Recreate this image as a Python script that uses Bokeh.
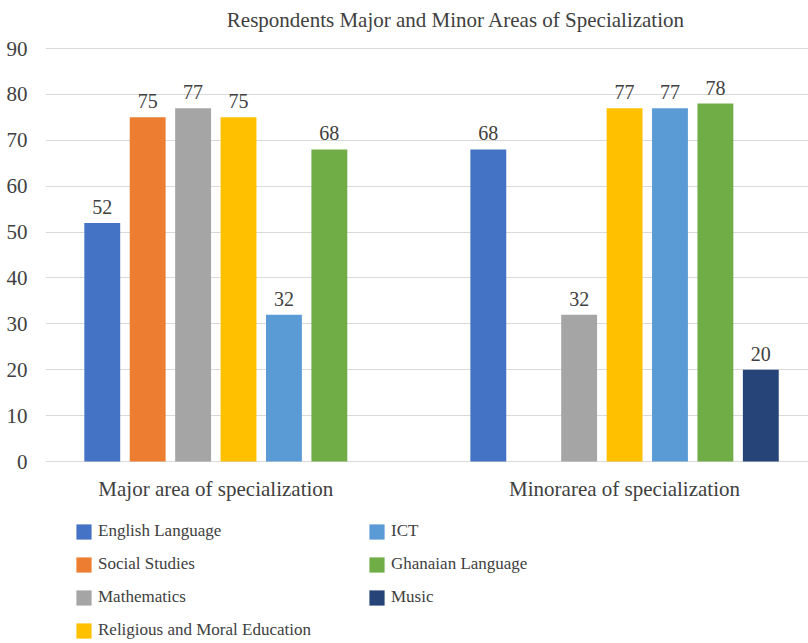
from bokeh.plotting import figure
from bokeh.models import ColumnDataSource, Legend, LegendItem, Label, LabelSet, FixedTicker
from bokeh.embed import file_html
from bokeh.resources import INLINE

# ---------------- data ----------------
title_text = "Respondents Major and Minor Areas of Specialization"
categories = ["Major area of specialization", "Minorarea of specialization"]
series = ["English Language", "Social Studies", "Mathematics",
          "Religious and Moral Education", "ICT", "Ghanaian Language", "Music"]
major = [52, 75, 77, 75, 32, 68, None]
minor = [68, None, 32, 77, 77, 78, 20]
y_ticks = [0, 10, 20, 30, 40, 50, 60, 70, 80, 90]

# ---------------- style ----------------
colors = ["#4472C4", "#ED7D31", "#A5A5A5", "#FFC000", "#5B9BD5", "#70AD47", "#264478"]
FONT = "Liberation Serif"
TXT = "#404040"
group_centers = [3.75, 12.75]   # category positions on the x scale (slot units)
bar_width = 0.79

groups = [major, minor]

W, H = 808, 643
p = figure(width=W, height=H, output_backend="svg", toolbar_location=None,
           x_range=(0, 16.8), y_range=(-39.66, 100.46), x_axis_type=None,
           min_border_left=45, min_border_right=0, min_border_top=0,
           min_border_bottom=0)
p.outline_line_color = None
p.ygrid.grid_line_color = "#D9D9D9"
p.ygrid.grid_line_width = 1
p.ygrid.ticker = FixedTicker(ticks=y_ticks)

# y axis
p.yaxis.ticker = FixedTicker(ticks=y_ticks)
p.yaxis.axis_line_color = None
p.yaxis.major_tick_line_color = None
p.yaxis.minor_tick_line_color = None
p.yaxis.major_label_standoff = 12
p.yaxis.major_label_text_font = FONT
p.yaxis.major_label_text_font_size = "21px"
p.yaxis.major_label_text_color = TXT

# bars: slots in a group run through the last non-blank series
renderers = []
for si, name in enumerate(series):
    xs, ys, labs = [], [], []
    for gi, vals in enumerate(groups):
        last = max(i for i, v in enumerate(vals) if v is not None)
        nslots = last + 1
        if si >= nslots or vals[si] is None:
            continue
        xs.append(group_centers[gi] + si - (nslots - 1) / 2)
        ys.append(vals[si])
        labs.append(str(vals[si]))
    src = ColumnDataSource(dict(x=xs, top=ys, lab=labs))
    r = p.vbar(x="x", top="top", width=bar_width, bottom=0, source=src,
               fill_color=colors[si], line_color=None)
    p.add_layout(LabelSet(x="x", y="top", text="lab", source=src, text_align="center",
                          text_baseline="alphabetic", y_offset=9, text_font_size="20px",
                          text_font=FONT, text_color=TXT))
    renderers.append(r)

# category labels under the groups
for c, lab in zip(group_centers, categories):
    p.add_layout(Label(x=c, y=0, text=lab, text_align="center", text_baseline="alphabetic",
                       y_offset=-27, text_font=FONT, text_font_size="21px", text_color=TXT))

# title
p.add_layout(Label(x=410.5, y=624, x_units="screen", y_units="screen",
                   text=title_text, text_align="center", text_baseline="alphabetic",
                   text_font=FONT, text_font_size="21px", text_color=TXT))

# legends (two columns)
def make_legend(idx, loc):
    return Legend(items=[LegendItem(label=series[i], renderers=[renderers[i]]) for i in idx],
                  location=loc, orientation="vertical",
                  glyph_width=19, glyph_height=19, label_height=19,
                  spacing=13, label_standoff=5, padding=0, margin=0,
                  border_line_color=None, background_fill_alpha=0,
                  label_text_font=FONT, label_text_font_size="17px",
                  label_text_color=TXT)

p.add_layout(make_legend([0, 1, 2, 3], (29, 2.8)))
p.add_layout(make_legend([4, 5, 6], (322, 35.8)))

open("out.html", "w").write(file_html(p, INLINE))
